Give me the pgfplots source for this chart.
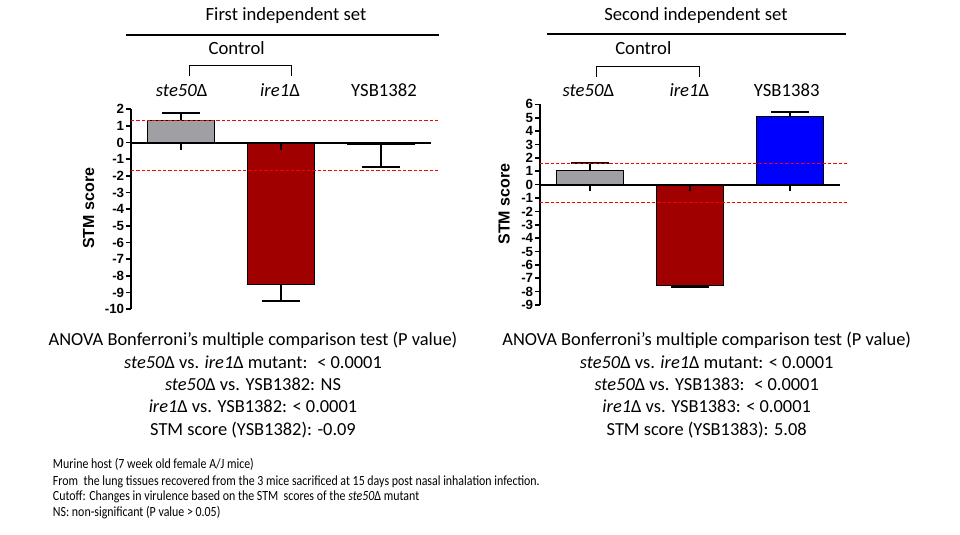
\documentclass[border=0pt]{standalone}
\usepackage{fontspec}
\setmainfont{Carlito}
\newfontfamily\arialf{Liberation Sans}
\usepackage{graphicx}
\usepackage{pgfplots}
\pgfplotsset{compat=1.18}
\definecolor{bargray}{RGB}{160,160,164}
\definecolor{bardred}{RGB}{160,0,0}
\definecolor{barblue}{RGB}{0,0,255}
\pgfplotsset{stmaxis/.style={
  scale only axis, width=225pt,
  xmin=-0.5, xmax=2.5,
  axis x line=none, axis y line=left,
  y axis line style={-, line width=1.5pt},
  ytick style={line width=1.2pt, black},
  tick align=outside, major tick length=3.75pt,
  yticklabel style={font=\arialf\bfseries\fontsize{10}{10}\selectfont, inner sep=1.2pt},
  clip=false,
}}
\pgfplotsset{stmbar/.style={ybar, bar width=50.25pt, bar shift=0pt, draw=black, line width=0.8pt, fill=#1,
  error bars/error bar style={line width=1.5pt, black},
  error bars/error mark options={rotate=90, mark size=14.25pt, line width=1.5pt, black}}}
\pgfplotsset{cutoff/.style={red, line width=0.8pt, dash pattern=on 2.5pt off 1.5pt, no marks}}
\begin{document}
\begin{tikzpicture}
\begin{scope}[x=0.75pt,y=-0.75pt]
\path (0,0) rectangle (960,535);
% titles
\node[anchor=base, font=\fontsize{14}{16}\selectfont] at (286,20.7) {First independent set};
\node[anchor=base, font=\fontsize{14}{16}\selectfont] at (696,21) {Second independent set};
\draw[line width=1.5pt] (126,35) -- (439.3,35);
\draw[line width=1.5pt] (547.3,34.3) -- (846,34.3);
\node[anchor=base, font=\fontsize{14}{16}\selectfont] at (236.7,54.3) {Control};
\node[anchor=base, font=\fontsize{14}{16}\selectfont] at (643.3,54.3) {Control};
\draw[line width=0.75pt] (189.3,76) -- (189.3,65.7) -- (291.3,65.7) -- (291.3,76);
\draw[line width=0.75pt] (596.7,76.7) -- (596.7,66.7) -- (699,66.7) -- (699,76.7);
\node[anchor=base, font=\fontsize{14}{16}\selectfont] at (181.7,96.7) {\textit{ste50}Δ};
\node[anchor=base, font=\fontsize{14}{16}\selectfont] at (280,96.7) {\textit{ire1}Δ};
\node[anchor=base, font=\fontsize{14}{16}\selectfont] at (384,96.7) {YSB1382};
\node[anchor=base, font=\fontsize{14}{16}\selectfont] at (588.3,96.7) {\textit{ste50}Δ};
\node[anchor=base, font=\fontsize{14}{16}\selectfont] at (689.3,96.7) {\textit{ire1}Δ};
\node[anchor=base, font=\fontsize{14}{16}\selectfont] at (786.7,96.7) {YSB1383};
% y labels
\node[rotate=90, font=\arialf\bfseries\fontsize{12}{12}\selectfont] at (88.7,208.3) {STM score};
\node[rotate=90, font=\arialf\bfseries\fontsize{12}{12}\selectfont] at (504,204) {STM score};
% ANOVA texts
\node[anchor=base, font=\fontsize{13.8}{16}\selectfont] at (253,345.7) {ANOVA Bonferroni’s multiple comparison test (P value)};
\node[anchor=base, font=\fontsize{13.8}{16}\selectfont] at (253,368.3) {\textit{ste50}Δ vs. \textit{ire1}Δ mutant:~ < 0.0001};
\node[anchor=base, font=\fontsize{13.8}{16}\selectfont] at (253,390) {\textit{ste50}Δ vs. YSB1382: NS};
\node[anchor=base, font=\fontsize{13.8}{16}\selectfont] at (253,412.3) {\textit{ire1}Δ vs. YSB1382: < 0.0001};
\node[anchor=base, font=\fontsize{13.8}{16}\selectfont] at (253,435) {STM score (YSB1382): -0.09};
\node[anchor=base, font=\fontsize{13.8}{16}\selectfont] at (706.7,345.7) {ANOVA Bonferroni’s multiple comparison test (P value)};
\node[anchor=base, font=\fontsize{13.8}{16}\selectfont] at (706.7,368.3) {\textit{ste50}Δ vs. \textit{ire1}Δ mutant: < 0.0001};
\node[anchor=base, font=\fontsize{13.8}{16}\selectfont] at (706.7,390) {\textit{ste50}Δ vs. YSB1383:~ < 0.0001};
\node[anchor=base, font=\fontsize{13.8}{16}\selectfont] at (706.7,412.3) {\textit{ire1}Δ vs. YSB1383: < 0.0001};
\node[anchor=base, font=\fontsize{13.8}{16}\selectfont] at (706.7,435) {STM score (YSB1383): 5.08};
% notes
\node[anchor=base west, inner sep=0pt, font=\fontsize{10.5}{12}\selectfont] at (52.7,468.3) {\scalebox{0.85}[1]{Murine host (7 week old female A/J mice)}};
\node[anchor=base west, inner sep=0pt, font=\fontsize{10.5}{12}\selectfont] at (52.7,485) {\scalebox{0.85}[1]{From~ the lung tissues recovered from the 3 mice sacrificed at 15 days post nasal inhalation infection.}};
\node[anchor=base west, inner sep=0pt, font=\fontsize{10.5}{12}\selectfont] at (52.7,500.7) {\scalebox{0.85}[1]{Cutoff: Changes in virulence based on the STM~ scores of the \textit{ste50}Δ mutant}};
\node[anchor=base west, inner sep=0pt, font=\fontsize{10.5}{12}\selectfont] at (52.7,516.7) {\scalebox{0.85}[1]{NS: non-significant (P value > 0.05)}};
\end{scope}

% left chart
\begin{axis}[stmaxis, at={(98.25pt,-231.9pt)}, anchor=south west, height=150pt,
  ymin=-10, ymax=2, ytick={-10,-9,-8,-7,-6,-5,-4,-3,-2,-1,0,1,2},
  yticklabels={-10,-9,-8,-7,-6,-5,-4,-3,-2,-1,0,1,2}]
\addplot[stmbar=bargray, error bars/.cd, y dir=plus, y explicit] coordinates {(0,1.35) +- (0,0.44)};
\addplot[stmbar=bardred, error bars/.cd, y dir=minus, y explicit] coordinates {(1,-8.5) +- (0,0.99)};
\addplot[stmbar=bargray, error bars/.cd, y dir=minus, y explicit] coordinates {(2,-0.09) +- (0,1.36)};
\addplot[cutoff] coordinates {(-0.5,1.33) (2.58,1.33)};
\addplot[cutoff] coordinates {(-0.5,-1.67) (2.58,-1.67)};
\draw[line width=1.5pt] (axis cs:-0.5,0) -- (axis cs:2.5,0);
\draw[line width=1.5pt] (axis cs:0,0) -- ([yshift=-5.25pt]axis cs:0,0);
\draw[line width=1.5pt] (axis cs:1,0) -- ([yshift=-5.25pt]axis cs:1,0);
\draw[line width=1.5pt] (axis cs:2,0) -- ([yshift=-5.25pt]axis cs:2,0);
\end{axis}

% right chart
\begin{axis}[stmaxis, at={(405pt,-228.75pt)}, anchor=south west, height=150.5pt,
  ymin=-9, ymax=6, ytick={-9,-8,-7,-6,-5,-4,-3,-2,-1,0,1,2,3,4,5,6},
  yticklabels={-9,-8,-7,-6,-5,-4,-3,-2,-1,0,1,2,3,4,5,6}]
\addplot[stmbar=bargray, error bars/.cd, y dir=plus, y explicit] coordinates {(0,1.07) +- (0,0.57)};
\addplot[stmbar=bardred, error bars/.cd, y dir=minus, y explicit] coordinates {(1,-7.55) +- (0,0.12)};
\addplot[stmbar=barblue, error bars/.cd, y dir=plus, y explicit] coordinates {(2,5.08) +- (0,0.34)};
\addplot[cutoff] coordinates {(-0.5,1.57) (2.58,1.57)};
\addplot[cutoff] coordinates {(-0.5,-1.34) (2.58,-1.34)};
\draw[line width=1.5pt] (axis cs:-0.5,0) -- (axis cs:2.5,0);
\draw[line width=1.5pt] (axis cs:0,0) -- ([yshift=-4.5pt]axis cs:0,0);
\draw[line width=1.5pt] (axis cs:1,0) -- ([yshift=-4.5pt]axis cs:1,0);
\draw[line width=1.5pt] (axis cs:2,0) -- ([yshift=-4.5pt]axis cs:2,0);
\end{axis}
\end{tikzpicture}
\end{document}
